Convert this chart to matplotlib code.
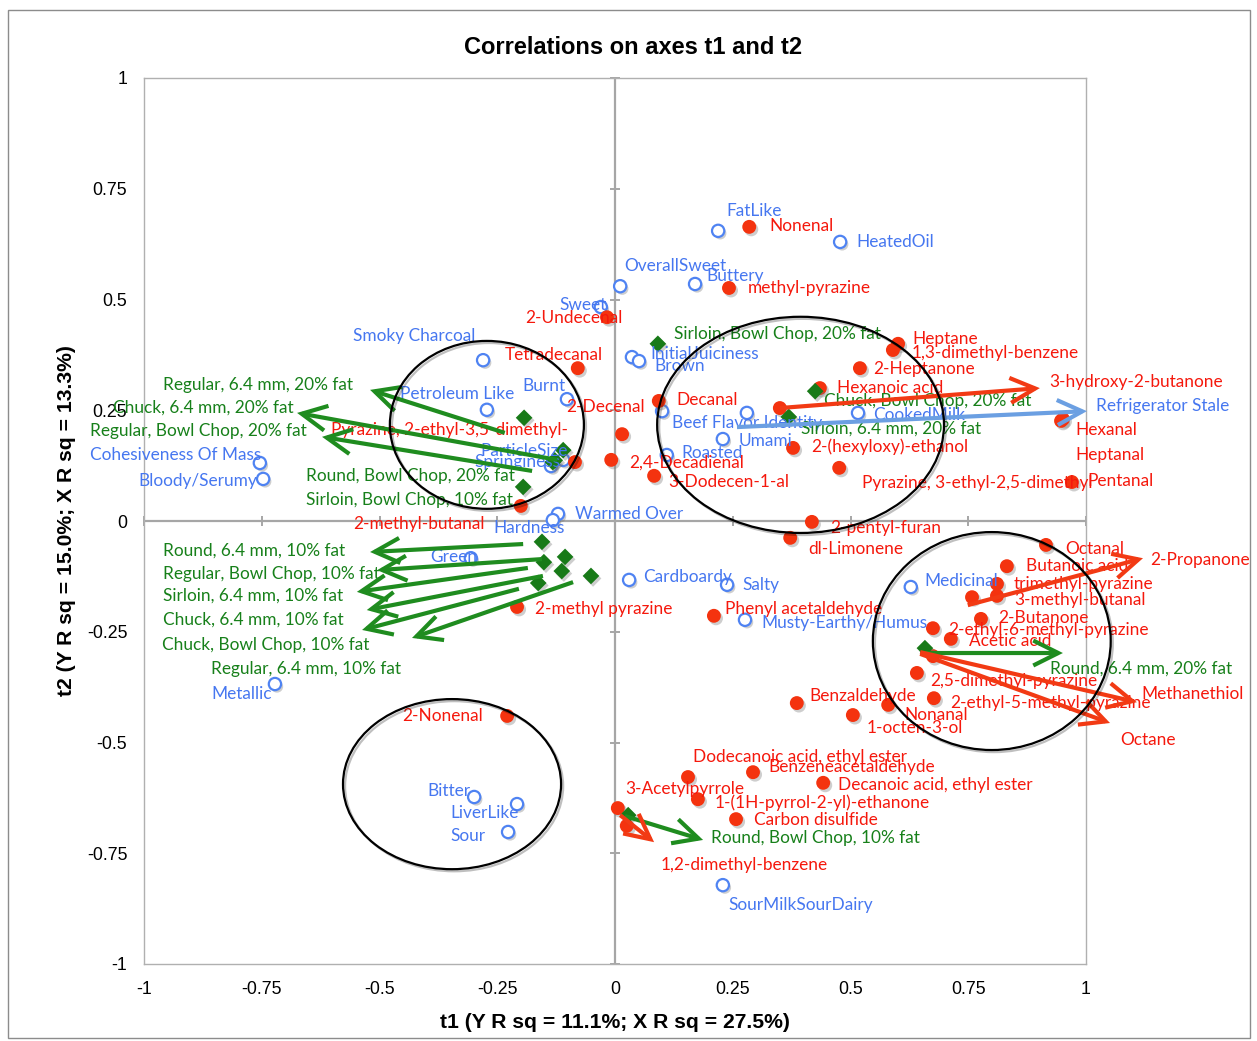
import matplotlib
matplotlib.use("Agg")
import matplotlib.pyplot as plt
import matplotlib.patheffects as pe
from matplotlib.patches import Ellipse, Rectangle, FancyArrowPatch

# ---------------- data: coordinates on factor axes t1 / t2 ----------------
# Sensory attributes (open blue circles)
sensory_names = [
    "FatLike", "HeatedOil", "OverallSweet", "Buttery", "Sweet", "Smoky Charcoal",
    "InitialJuiciness", "Brown", "Burnt", "Petroleum Like", "Beef Flavor Identity",
    "", "CookedMilk", "Umami", "Roasted", "ParticleSize", "Springiness",
    "Cohesiveness Of Mass", "Bloody/Serumy", "Warmed Over", "Hardness", "Green",
    "Cardboardy", "Salty", "Medicinal", "Musty-Earthy/Humus", "Metallic",
    "Bitter", "LiverLike", "Sour", "SourMilkSourDairy",
]
sensory_t1 = [0.219, 0.478, 0.011, 0.170, -0.030, -0.280, 0.036, 0.051, -0.102, -0.272,
              0.100, 0.280, 0.516, 0.229, 0.110, -0.110, -0.136, -0.754, -0.747, -0.121,
              -0.132, -0.306, 0.030, 0.238, 0.628, 0.276, -0.722, -0.299, -0.208, -0.227,
              0.229]
sensory_t2 = [0.655, 0.630, 0.530, 0.535, 0.483, 0.363, 0.370, 0.361, 0.275, 0.251,
              0.248, 0.244, 0.244, 0.185, 0.149, 0.138, 0.124, 0.131, 0.095, 0.016,
              0.002, -0.084, -0.133, -0.144, -0.149, -0.223, -0.368, -0.623, -0.639, -0.702,
              -0.822]

# Volatile compounds (filled red circles)
volatile_names = [
    "Nonenal", "methyl-pyrazine", "2-Undecenal", "Heptane", "1,3-dimethyl-benzene",
    "2-Heptanone", "Tetradecanal", "Hexanoic acid", "Decanal", "2-Decenal",
    "Pyrazine, 2-ethyl-3,5-dimethyl-", "2,4-Decadienal", "3-Dodecen-1-al", "Hexanal",
    "Heptanal", "Pentanal", "Pyrazine, 3-ethyl-2,5-dimethyl", "2-(hexyloxy)-ethanol",
    "2-pentyl-furan", "dl-Limonene", "2-methyl-butanal", "2-methyl pyrazine",
    "Phenyl acetaldehyde", "Octanal", "Butanoic acid", "trimethyl-pyrazine",
    "3-methyl-butanal", "2-Butanone", "2-ethyl-6-methyl-pyrazine", "Acetic acid",
    "2,5-dimethyl-pyrazine", "2-ethyl-5-methyl-pyrazine", "Nonanal", "Benzaldehyde",
    "1-octen-3-ol", "2-Nonenal", "Dodecanoic acid, ethyl ester", "Benzeneacetaldehyde",
    "Decanoic acid, ethyl ester", "1-(1H-pyrrol-2-yl)-ethanone", "3-Acetylpyrrole",
    "Carbon disulfide", "", "", "", "",
]
volatile_t1 = [0.285, 0.242, -0.017, 0.601, 0.590, 0.520, -0.079, 0.435, 0.093, 0.015,
               -0.085, -0.008, 0.083, 0.951, 0.947, 0.970, 0.476, 0.378, 0.418, 0.372,
               -0.200, -0.208, 0.210, 0.915, 0.832, 0.811, 0.811, 0.777, 0.675, 0.713,
               0.641, 0.677, 0.580, 0.386, 0.505, -0.229, 0.155, 0.293, 0.442, 0.176,
               0.006, 0.257, 0.350, 0.758, 0.675, 0.025]
volatile_t2 = [0.664, 0.526, 0.460, 0.400, 0.386, 0.345, 0.345, 0.300, 0.271, 0.196,
               0.133, 0.138, 0.102, 0.230, 0.226, 0.088, 0.120, 0.165, -0.002, -0.038,
               0.034, -0.194, -0.214, -0.054, -0.102, -0.142, -0.169, -0.221, -0.242, -0.266,
               -0.343, -0.400, -0.415, -0.411, -0.438, -0.440, -0.578, -0.567, -0.591, -0.628,
               -0.648, -0.673, 0.255, -0.172, -0.305, -0.688]

# Products (green diamonds)
sample_names = [
    "Regular, 6.4 mm, 20% fat", "Chuck, 6.4 mm, 20% fat", "Regular, Bowl Chop, 20% fat",
    "Round, Bowl Chop, 20% fat", "Sirloin, Bowl Chop, 10% fat", "Sirloin, Bowl Chop, 20% fat",
    "Chuck, Bowl Chop, 20% fat", "Sirloin, 6.4 mm, 20% fat", "Round, 6.4 mm, 20% fat",
    "Round, Bowl Chop, 10% fat", "Round, 6.4 mm, 10% fat", "Regular, Bowl Chop, 10% fat",
    "Sirloin, 6.4 mm, 10% fat", "Chuck, 6.4 mm, 10% fat", "Chuck, Bowl Chop, 10% fat",
    "Regular, 6.4 mm, 10% fat",
]
sample_t1 = [-0.193, -0.132, -0.128, -0.110, -0.195, 0.091, 0.425, 0.369, 0.658, 0.028,
             -0.155, -0.151, -0.113, -0.106, -0.163, -0.051]
sample_t2 = [0.233, 0.133, 0.137, 0.160, 0.077, 0.400, 0.293, 0.235, -0.287, -0.664,
             -0.047, -0.093, -0.113, -0.081, -0.140, -0.124]

# Pointer arrows that carry a label away from crowded regions
green_arrow_names = [
    "Regular, 6.4 mm, 20% fat", "Chuck, 6.4 mm, 20% fat", "Regular, Bowl Chop, 20% fat",
    "Round, 6.4 mm, 10% fat", "Regular, Bowl Chop, 10% fat", "Sirloin, 6.4 mm, 10% fat",
    "Chuck, 6.4 mm, 10% fat", "Chuck, Bowl Chop, 10% fat", "Regular, 6.4 mm, 10% fat",
    "Round, 6.4 mm, 20% fat", "Round, Bowl Chop, 10% fat",
]
green_from_t1 = [-0.234, -0.123, -0.176, -0.195, -0.155, -0.185, -0.153, -0.204, -0.089, 0.648, 0.021]
green_from_t2 = [0.199, 0.138, 0.113, -0.052, -0.086, -0.106, -0.124, -0.153, -0.138, -0.298, -0.666]
green_to_t1 = [-0.520, -0.675, -0.622, -0.520, -0.505, -0.548, -0.527, -0.537, -0.431, 0.951, 0.187]
green_to_t2 = [0.296, 0.244, 0.190, -0.070, -0.111, -0.160, -0.201, -0.246, -0.264, -0.298, -0.720]

red_arrow_names = ["3-hydroxy-2-butanone", "2-Propanone", "Methanethiol", "Octane",
                   "1,2-dimethyl-benzene"]
red_from_t1 = [0.350, 0.749, 0.648, 0.648, 0.011]
red_from_t2 = [0.255, -0.190, -0.296, -0.300, -0.664]
red_to_t1 = [0.902, 1.121, 1.108, 1.051, 0.083]
red_to_t2 = [0.300, -0.084, -0.409, -0.456, -0.725]

blue_arrow_names = ["Refrigerator Stale"]
blue_from_t1 = [0.259]
blue_from_t2 = [0.212]
blue_to_t1 = [1.002]
blue_to_t2 = [0.248]

# Groupings outlined by ellipses: centre t1, centre t2, width, height
group_t1 = [-0.272, 0.394, 0.800, -0.346]
group_t2 = [0.217, 0.217, -0.271, -0.594]
group_w = [0.412, 0.609, 0.505, 0.463]
group_h = [0.379, 0.488, 0.492, 0.384]

tick_values = [-1, -0.75, -0.5, -0.25, 0, 0.25, 0.5, 0.75, 1]
tick_labels = ["-1", "-0.75", "-0.5", "-0.25", "0", "0.25", "0.5", "0.75", "1"]

# ---------------- label placement (pixel offsets from the mark) ----------------
LABEL_OFFSET = {
    "FatLike": (8, 20), "HeatedOil": (16, 0), "OverallSweet": (4, 20), "Buttery": (11, 8),
    "Sweet": (-41, 2), "Smoky Charcoal": (-130, 24), "InitialJuiciness": (18, 3),
    "Brown": (15, -5), "Burnt": (-45, 13), "Petroleum Like": (-87, 16),
    "Beef Flavor Identity": (10, -12), "CookedMilk": (15, -2), "Umami": (16, -2),
    "Roasted": (15, 2), "ParticleSize": (-83, 9), "Springiness": (-77, 4),
    "Cohesiveness Of Mass": (-170, 8), "Bloody/Serumy": (-125, -2), "Warmed Over": (17, 0),
    "Hardness": (-59, -8), "Green": (-41, 1), "Cardboardy": (14, 3), "Salty": (15, 0),
    "Medicinal": (14, 6), "Musty-Earthy/Humus": (16, -3), "Metallic": (-64, -10),
    "Bitter": (-47, 6), "LiverLike": (-67, -9), "Sour": (-58, -4),
    "SourMilkSourDairy": (6, -20), "Refrigerator Stale": (9, 5),
    "Nonenal": (20, 1), "methyl-pyrazine": (19, 0), "2-Undecenal": (-82, -1),
    "Heptane": (14, 5), "1,3-dimethyl-benzene": (19, -3), "2-Heptanone": (13, -1),
    "Tetradecanal": (-73, 13), "Hexanoic acid": (17, 0), "Decanal": (18, 1),
    "2-Decenal": (-56, 27), "Pyrazine, 2-ethyl-3,5-dimethyl-": (-244, 32),
    "2,4-Decadienal": (18, -3), "3-Dodecen-1-al": (14, -6), "Hexanal": (12, -11),
    "Heptanal": (14, -34), "Pentanal": (16, 1), "Pyrazine, 3-ethyl-2,5-dimethyl": (23, -15),
    "2-(hexyloxy)-ethanol": (18, 1), "2-pentyl-furan": (18, -6), "dl-Limonene": (18, -11),
    "2-methyl-butanal": (-168, -18), "2-methyl pyrazine": (18, -2),
    "Phenyl acetaldehyde": (11, 7), "Octanal": (19, -4), "Butanoic acid": (19, 0),
    "trimethyl-pyrazine": (17, 0), "3-methyl-butanal": (17, -4), "2-Butanone": (17, 1),
    "2-ethyl-6-methyl-pyrazine": (15, -2), "Acetic acid": (18, -2),
    "2,5-dimethyl-pyrazine": (13, -8), "2-ethyl-5-methyl-pyrazine": (16, -5),
    "Nonanal": (16, -10), "Benzaldehyde": (13, 7), "1-octen-3-ol": (14, -13),
    "2-Nonenal": (-105, 0), "Dodecanoic acid, ethyl ester": (5, 20),
    "Benzeneacetaldehyde": (15, 5), "Decanoic acid, ethyl ester": (15, -2),
    "1-(1H-pyrrol-2-yl)-ethanone": (17, -4), "3-Acetylpyrrole": (7, 19),
    "Carbon disulfide": (18, -1),
    "3-hydroxy-2-butanone": (9, 6), "2-Propanone": (7, -2), "Methanethiol": (5, 8),
    "Octane": (10, -17), "1,2-dimethyl-benzene": (7, -23),
    "Sirloin, Bowl Chop, 20% fat": (16, 10), "Chuck, Bowl Chop, 20% fat": (9, -10),
    "Sirloin, 6.4 mm, 20% fat": (12, -12), "Round, Bowl Chop, 20% fat": (-257, -26),
    "Sirloin, Bowl Chop, 10% fat": (-217, -13),
    "Regular, 6.4 mm, 20% fat": (-207, 5), "Chuck, 6.4 mm, 20% fat": (-184, 5),
    "Regular, Bowl Chop, 20% fat": (-232, 6), "Round, 6.4 mm, 10% fat": (-207, 1),
    "Regular, Bowl Chop, 10% fat": (-214, -4), "Sirloin, 6.4 mm, 10% fat": (-194, -4),
    "Chuck, 6.4 mm, 10% fat": (-204, -10), "Chuck, Bowl Chop, 10% fat": (-200, -15),
    "Regular, 6.4 mm, 10% fat": (-201, -31), "Round, 6.4 mm, 20% fat": (-13, -16),
    "Round, Bowl Chop, 10% fat": (8, 2),
}

BLUE_TXT = "#4677f0"
BLUE_EDGE = "#4f83f2"
RED_TXT = "#f5180c"
RED_DOT = "#f4330f"
GREEN_TXT = "#17801a"
GREEN_MARK = "#187a18"
GREEN_ARROW = "#1f8c1f"
RED_ARROW = "#f23a14"
BLUE_ARROW = "#6b9fe2"
LABEL_FONT = "Lato"
LABEL_SIZE = 12.4

fig = plt.figure(figsize=(12.57, 10.41), dpi=100)
ax = fig.add_axes([144 / 1257, 1 - 964 / 1041, 942 / 1257, 886 / 1041])
ax.set_xlim(-1, 1)
ax.set_ylim(-1, 1)

for s in ax.spines.values():
    s.set_color("#b0b0b0")
    s.set_linewidth(1.0)

ax.set_xticks(tick_values)
ax.set_xticklabels(tick_labels)
ax.set_yticks(tick_values)
ax.set_yticklabels(tick_labels)
ax.tick_params(length=0, labelsize=12.8, pad=12)
for lab in ax.get_xticklabels() + ax.get_yticklabels():
    lab.set_fontfamily("Liberation Sans")

# axes through the origin with cross ticks
ax.axhline(0, color="#a6a6a6", lw=1.6, zorder=1)
ax.axvline(0, color="#a6a6a6", lw=1.6, zorder=1)
ax.plot(tick_values, [0] * len(tick_values), ls="none", marker="|", ms=7, mew=1.4,
        color="#a6a6a6", zorder=1, clip_on=False)
ax.plot([0] * len(tick_values), tick_values, ls="none", marker="_", ms=7, mew=1.4,
        color="#a6a6a6", zorder=1, clip_on=False)

shadow = [pe.SimplePatchShadow(offset=(1.5, -1.8), shadow_rgbFace="0.45", alpha=0.35),
          pe.Normal()]

ax.scatter(sensory_t1, sensory_t2, s=78, facecolor="white", edgecolor=BLUE_EDGE,
           linewidth=1.6, zorder=3, path_effects=shadow, clip_on=False)
ax.scatter(volatile_t1, volatile_t2, s=100, color=RED_DOT, edgecolor="none", zorder=3,
           path_effects=shadow, clip_on=False)
ax.scatter(sample_t1, sample_t2, s=72, marker="D", color=GREEN_MARK, edgecolor="none",
           zorder=3, path_effects=shadow, clip_on=False)


def put_label(name, x, y, color):
    if not name:
        return
    dx, dy = LABEL_OFFSET[name]
    ax.annotate(name, xy=(x, y), xytext=(dx, dy), textcoords="offset pixels",
                ha="left", va="center", color=color, fontsize=LABEL_SIZE,
                family=LABEL_FONT, zorder=4, annotation_clip=False)


for n, x, y in zip(sensory_names, sensory_t1, sensory_t2):
    put_label(n, x, y, BLUE_TXT)
for n, x, y in zip(volatile_names, volatile_t1, volatile_t2):
    put_label(n, x, y, RED_TXT)
for n, x, y in zip(sample_names, sample_t1, sample_t2):
    if n not in green_arrow_names:
        put_label(n, x, y, GREEN_TXT)


def draw_arrows(names, x0s, y0s, x1s, y1s, color, txt_color):
    for n, x0, y0, x1, y1 in zip(names, x0s, y0s, x1s, y1s):
        arr = FancyArrowPatch((x0, y0), (x1, y1),
                              arrowstyle="->,head_length=0.9,head_width=0.45",
                              mutation_scale=20, lw=3.0, color=color,
                              shrinkA=0, shrinkB=0, zorder=5, clip_on=False,
                              joinstyle="miter", capstyle="butt")
        ax.add_patch(arr)
        put_label(n, x1, y1, txt_color)


draw_arrows(green_arrow_names, green_from_t1, green_from_t2, green_to_t1, green_to_t2,
            GREEN_ARROW, GREEN_TXT)
draw_arrows(red_arrow_names, red_from_t1, red_from_t2, red_to_t1, red_to_t2,
            RED_ARROW, RED_TXT)
draw_arrows(blue_arrow_names, blue_from_t1, blue_from_t2, blue_to_t1, blue_to_t2,
            BLUE_ARROW, BLUE_TXT)

for cx, cy, w, h in zip(group_t1, group_t2, group_w, group_h):
    e = Ellipse((cx, cy), w, h, fill=False, edgecolor="black", lw=1.6, zorder=6,
                clip_on=False,
                path_effects=[pe.SimpleLineShadow(offset=(1.5, -1.5), alpha=0.25),
                              pe.Normal()])
    ax.add_patch(e)

fig.text(633 / 1257, 1 - 48 / 1041, "Correlations on axes t1 and t2", ha="center",
         va="center", fontsize=17, fontweight="bold", family="Liberation Sans")
fig.text(615 / 1257, 1 - 1022 / 1041, "t1 (Y R sq = 11.1%; X R sq = 27.5%)", ha="center",
         va="center", fontsize=15.2, fontweight="bold", family="Liberation Sans")
fig.text(67 / 1257, 1 - 521 / 1041, "t2 (Y R sq = 15.0%; X R sq = 13.3%)", ha="center",
         va="center", rotation=90, fontsize=15.2, fontweight="bold", family="Liberation Sans")

# chart frame
fig.patches.append(Rectangle((8 / 1257, 1 - 1038 / 1041), 1242 / 1257, 1028 / 1041,
                             transform=fig.transFigure, fill=False, edgecolor="#8c8c8c",
                             lw=1.0))

fig.savefig("out.png", dpi=100, facecolor="white")
